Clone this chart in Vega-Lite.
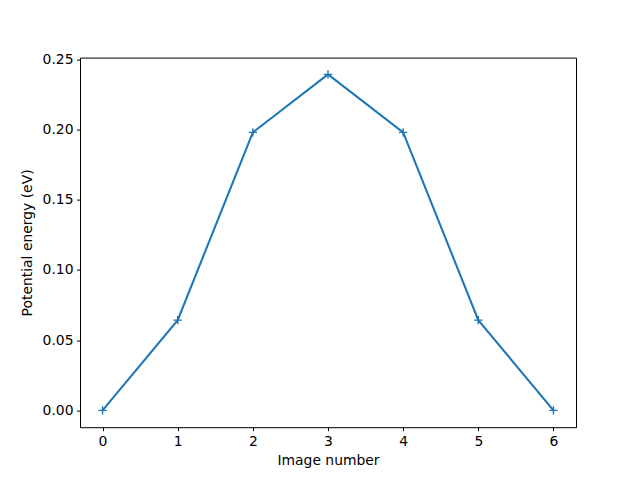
{
  "$schema": "https://vega.github.io/schema/vega-lite/v6.json",
  "autosize": {"type": "none"},
  "width": 496,
  "height": 369.6,
  "padding": {"left": 80, "top": 57.6, "right": 64, "bottom": 52.8},
  "background": "white",
  "config": {
    "view": {"stroke": "black", "strokeWidth": 1},
    "font": "DejaVu Sans",
    "axis": {
      "domain": false,
      "grid": false,
      "ticks": true,
      "tickColor": "black",
      "tickSize": 3.5,
      "tickWidth": 1,
      "labelPadding": 3.5,
      "labelFont": "DejaVu Sans",
      "labelFontSize": 13.9,
      "labelColor": "black",
      "titleFont": "DejaVu Sans",
      "titleFontSize": 13.9,
      "titleFontWeight": "normal",
      "titleColor": "black",
      "titlePadding": 4
    }
  },
  "data": {
    "values": [
      {"image": 0, "energy": 0.0},
      {"image": 1, "energy": 0.0643},
      {"image": 2, "energy": 0.198},
      {"image": 3, "energy": 0.2393},
      {"image": 4, "energy": 0.198},
      {"image": 5, "energy": 0.0643},
      {"image": 6, "energy": 0.0}
    ]
  },
  "encoding": {
    "x": {
      "field": "image",
      "type": "quantitative",
      "scale": {"domain": [-0.3, 6.3], "nice": false, "zero": false},
      "axis": {"title": "Image number", "values": [0, 1, 2, 3, 4, 5, 6], "format": "d", "labelFlush": false, "titlePadding": 5}
    },
    "y": {
      "field": "energy",
      "type": "quantitative",
      "scale": {"domain": [-0.01197, 0.25127], "nice": false, "zero": false},
      "axis": {"title": "Potential energy (eV)", "values": [0, 0.05, 0.1, 0.15, 0.2, 0.25], "format": ".2f", "labelFlush": false, "titlePadding": 8}
    }
  },
  "layer": [
    {"mark": {"type": "line", "color": "#1f77b4", "strokeWidth": 2.08}},
    {"mark": {"type": "point", "shape": "M-1,0L1,0M0,-1L0,1", "size": 69, "stroke": "#1f77b4", "strokeWidth": 1.4, "filled": false, "opacity": 1}}
  ]
}
